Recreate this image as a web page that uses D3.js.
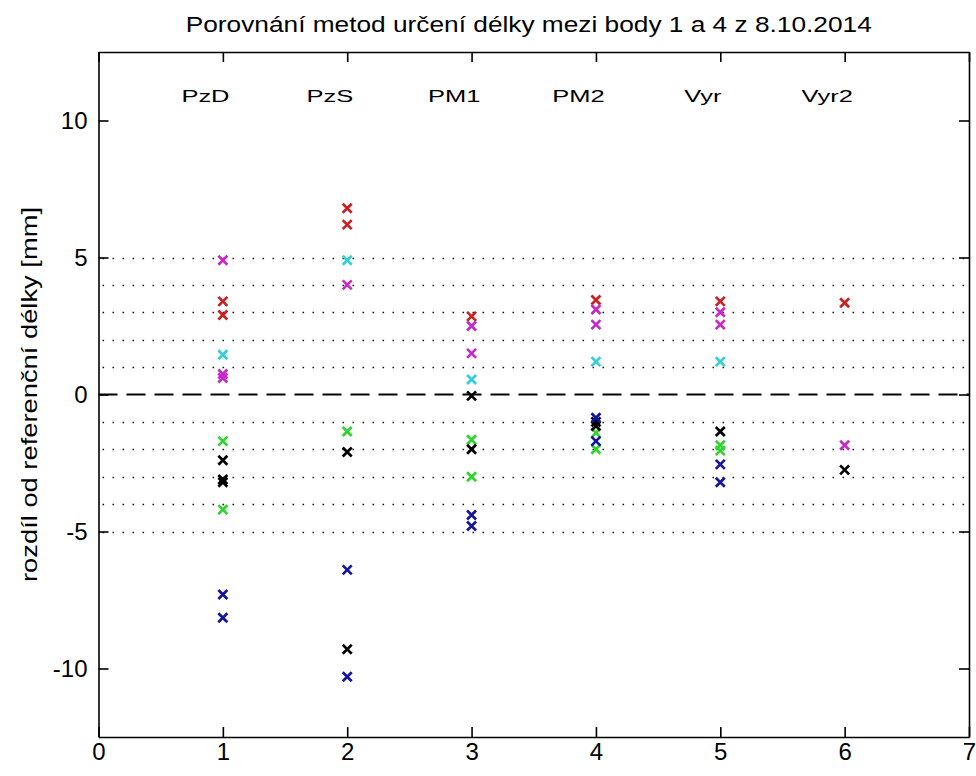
<!DOCTYPE html>
<html>
<head>
<meta charset="utf-8">
<script src="https://cdn.jsdelivr.net/npm/d3@7"></script>
<style>
  body { margin: 0; background: #fff; }
  text { font-family: "Liberation Sans", Arial, sans-serif; fill: #000; }
</style>
</head>
<body>
<div id="chart"></div>
<script>
'use strict';

// methods (x positions 1..6) and their labels
var methods = ["PzD", "PzS", "PM1", "PM2", "Vyr", "Vyr2"];
var methodX = [1, 2, 3, 4, 5, 6];

// differences from reference length [mm], one list per method
var redVals     = [[3.4, 2.9], [6.8, 6.2], [2.85], [3.45], [3.4], [3.35]];
var magentaVals = [[4.9, 0.75, 0.6], [4.0], [2.5, 1.5], [3.1, 2.55], [3.0, 2.55], [-1.85]];
var cyanVals    = [[1.45], [4.9], [0.55], [1.2], [1.2], []];
var greenVals   = [[-1.7, -4.2], [-1.35], [-1.65, -3.0], [-1.4, -2.0], [-1.85, -2.05], []];
var blackVals   = [[-2.4, -3.1, -3.2], [-2.1, -9.3], [-0.05, -2.0], [-1.0, -1.15], [-1.35], [-2.75]];
var blueVals    = [[-7.3, -8.15], [-6.4, -10.3], [-4.4, -4.8], [-0.85, -1.7], [-2.55, -3.2], []];

// dotted reference levels
var levels = [5, 4, 3, 2, 1, -1, -2, -3, -4, -5];

var xTicks = [0, 1, 2, 3, 4, 5, 6, 7];
var yTicks = [-10, -5, 0, 5, 10];

var series = [
  { color: "#cc1f1f", vals: redVals },
  { color: "#c62ac6", vals: magentaVals },
  { color: "#33cfd6", vals: cyanVals },
  { color: "#2fd52f", vals: greenVals },
  { color: "#000000", vals: blackVals },
  { color: "#14149c", vals: blueVals }
];

var svgWidth = 976, svgHeight = 776;
var plot = { left: 98.5, right: 969, top: 52, bottom: 737 };

var svg = d3.select("#chart")
  .append("svg")
  .attr("width", svgWidth)
  .attr("height", svgHeight);

svg.append("rect")
  .attr("width", svgWidth)
  .attr("height", svgHeight)
  .attr("fill", "#fff");

var x = d3.scaleLinear().domain([0, 7]).range([plot.left, plot.right]);
var y = d3.scaleLinear().domain([-12.5, 12.5]).range([plot.bottom, plot.top]);

// plain hyphen minus, integers only
var fmt = function(d) { return String(d); };

// dotted lines
svg.append("g")
  .selectAll("line")
  .data(levels)
  .join("line")
  .attr("x1", x(0) + 4)
  .attr("x2", x(7))
  .attr("y1", d => Math.round(y(d)) + 0.5)
  .attr("y2", d => Math.round(y(d)) + 0.5)
  .attr("stroke", "#111")
  .attr("stroke-width", 1.6)
  .attr("stroke-dasharray", "1.6 8.4");

// dashed zero line
svg.append("line")
  .attr("x1", x(0))
  .attr("x2", x(7))
  .attr("y1", y(0))
  .attr("y2", y(0))
  .attr("stroke", "#000")
  .attr("stroke-width", 2)
  .attr("stroke-dasharray", "19 9");

// axes, ticks pointing inward like matlab
function styleAxis(g) {
  g.selectAll("path").attr("stroke", "#000").attr("stroke-width", 1.6);
  g.selectAll("line").attr("stroke", "#000").attr("stroke-width", 1.6);
  g.selectAll("text")
    .attr("font-family", "Liberation Sans, Arial, sans-serif")
    .attr("font-size", 24)
    .attr("fill", "#000");
}

svg.append("g")
  .attr("transform", "translate(0," + plot.bottom + ")")
  .call(d3.axisBottom(x).tickValues(xTicks).tickFormat(fmt).tickSize(-10).tickSizeOuter(0).tickPadding(6))
  .call(styleAxis);

svg.append("g")
  .attr("transform", "translate(0," + plot.top + ")")
  .call(d3.axisTop(x).tickValues(xTicks).tickSize(-10).tickSizeOuter(0).tickFormat(""))
  .call(styleAxis);

svg.append("g")
  .attr("transform", "translate(" + plot.left + ",0)")
  .call(d3.axisLeft(y).tickValues(yTicks).tickFormat(fmt).tickSize(-10).tickSizeOuter(0).tickPadding(11))
  .call(styleAxis);

svg.append("g")
  .attr("transform", "translate(" + plot.right + ",0)")
  .call(d3.axisRight(y).tickValues(yTicks).tickSize(-10).tickSizeOuter(0).tickFormat(""))
  .call(styleAxis);

// method labels
svg.append("g")
  .selectAll("text")
  .data(methods)
  .join("text")
  .attr("transform", (d, i) => "translate(" + x(methodX[i] - 0.14) + "," + y(10.9) + ") scale(1.5,1)")
  .attr("text-anchor", "middle")
  .attr("dy", "0.35em")
  .attr("font-size", 17)
  .text(d => d);

// markers
var points = [];
series.forEach(function(s) {
  s.vals.forEach(function(list, i) {
    list.forEach(function(v) {
      points.push({ x: methodX[i], v: v, color: s.color });
    });
  });
});

var r = 4.5;
svg.append("g")
  .selectAll("path")
  .data(points)
  .join("path")
  .attr("transform", d => "translate(" + x(d.x) + "," + y(d.v) + ")")
  .attr("d", "M" + (-r) + "," + (-r) + "L" + r + "," + r + "M" + (-r) + "," + r + "L" + r + "," + (-r))
  .attr("fill", "none")
  .attr("stroke", d => d.color)
  .attr("stroke-width", 2.7);

// title
svg.append("text")
  .attr("x", (plot.left + plot.right) / 2 - 5)
  .attr("y", 32)
  .attr("text-anchor", "middle")
  .attr("font-size", 22)
  .attr("textLength", 686)
  .attr("lengthAdjust", "spacingAndGlyphs")
  .text("Porovnání metod určení délky mezi body 1 a 4 z 8.10.2014");

// y axis title
svg.append("text")
  .attr("transform", "translate(37," + (y(0)) + ") rotate(-90)")
  .attr("text-anchor", "middle")
  .attr("font-size", 22)
  .attr("textLength", 375)
  .attr("lengthAdjust", "spacingAndGlyphs")
  .text("rozdíl od referenční délky [mm]");
</script>
</body>
</html>
